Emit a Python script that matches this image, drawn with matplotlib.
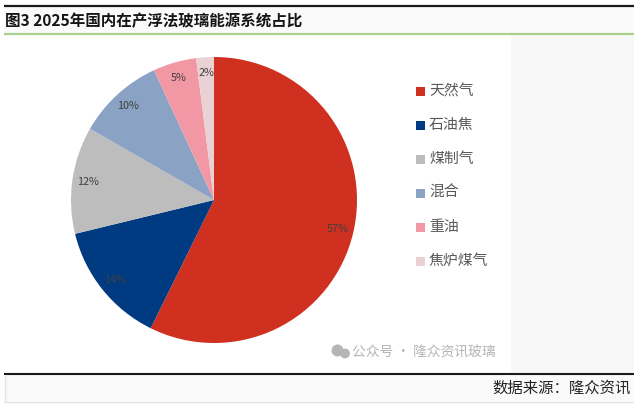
import matplotlib.pyplot as plt
from matplotlib.patches import Rectangle

plt.rcParams['font.family'] = ['Noto Sans CJK SC', 'DejaVu Sans']

categories = ["天然气", "石油焦", "煤制气", "混合", "重油", "焦炉煤气"]
shares = [57.3, 13.9, 12.1, 9.8, 4.9, 2.0]
colors = ["#d03020", "#003a80", "#bdbdbd", "#8aa2c4", "#f298a4", "#ead2d4"]

W, H = 634, 404

fig = plt.figure(figsize=(W / 100, H / 100), dpi=100, facecolor="white")

# full figure overlay in pixel coordinates for the frame and texts
bg = fig.add_axes([0, 0, 1, 1])
bg.set_xlim(0, W)
bg.set_ylim(H, 0)
bg.axis("off")

bg.add_patch(Rectangle((4, 6), 630, 27, color="#fafafa", lw=0))
bg.add_patch(Rectangle((511, 35), 123, 339, color="#f8f8f8", lw=0))
bg.add_patch(Rectangle((5, 375), 629, 26, color="#fafafa", lw=0))
bg.plot([4, 634], [5.5, 5.5], color="#1a1a1a", lw=1.6, solid_capstyle="butt")
bg.plot([4, 634], [33.8, 33.8], color="#a9d18e", lw=1.6, solid_capstyle="butt")
bg.plot([4, 634], [374, 374], color="#1a1a1a", lw=1.5, solid_capstyle="butt")
bg.plot([4, 634], [401.5, 401.5], color="#e2e2e2", lw=1, solid_capstyle="butt")
bg.plot([4.5, 4.5], [375, 402], color="#e2e2e2", lw=1, solid_capstyle="butt")

bg.text(5, 21, "图3 2025年国内在产浮法玻璃能源系统占比", fontsize=11.2, fontweight="bold",
        color="#151515", ha="left", va="center")
bg.text(631, 388, "数据来源：隆众资讯", fontsize=11.1, color="#222222", ha="right", va="center")
bg.text(352, 352, "公众号 · 隆众资讯玻璃", fontsize=9.9, color="#b5b5b5", ha="left", va="center")
bg.scatter([337.5, 345], [350.5, 353.5], s=[75, 50], color="#b5b5b5", lw=0)

# pie, centre (214, 200), radius 143 px
r, cx, cy = 143, 214, 200
ax = fig.add_axes([(cx - r) / W, 1 - (cy + r) / H, 2 * r / W, 2 * r / H])
wedges, texts, autotexts = ax.pie(
    shares, colors=colors, startangle=90, counterclock=False, radius=1,
    autopct="%.0f%%", pctdistance=0.89,
    textprops={"fontsize": 7.8, "color": "#404040", "fontweight": "light"},
)
ax.set_xlim(-1, 1)
ax.set_ylim(-1, 1)

# legend drawn by hand to keep the spacing of the original
legend_y = [91, 125, 159, 193, 227, 261]
for name, color, y in zip(categories, colors, legend_y):
    bg.add_patch(Rectangle((416, y - 4.5), 9, 9, color=color, lw=0))
    bg.text(429, y, name, fontsize=10.7, color="#595959", ha="left", va="center",
            fontweight="light")

fig.savefig("out.png", dpi=100)
